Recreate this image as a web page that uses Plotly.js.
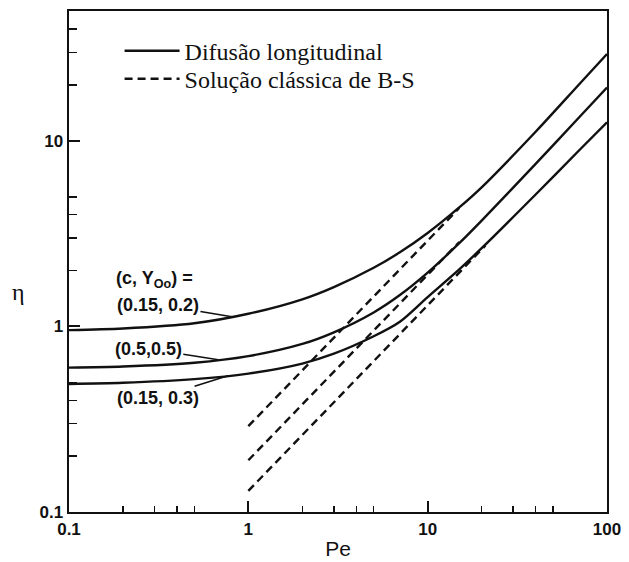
<!DOCTYPE html>
<html>
<head>
<meta charset="utf-8">
<script src="https://cdn.plot.ly/plotly-3.0.1.min.js"></script>
<style>html,body{margin:0;padding:0;background:#fff;}#chart{width:629px;height:562px;}</style>
</head>
<body>
<div id="chart"></div>
<script>
// Péclet numbers sampled along the solid curves
const pe = [0.1, 0.2, 0.5, 1, 2, 3, 5, 7, 10, 15, 20, 40, 70, 100];
// Longitudinal diffusion solutions (solid)
const etaA = [0.955, 0.975, 1.04, 1.17, 1.40, 1.63, 2.07, 2.51, 3.19, 4.38, 5.62, 11.2, 20.2, 29.4]; // (0.15, 0.2)
const etaB = [0.60, 0.608, 0.637, 0.692, 0.805, 0.93, 1.19, 1.476, 1.95, 2.81, 3.72, 7.52, 13.4, 19.4]; // (0.5, 0.5)
const etaC = [0.49, 0.497, 0.52, 0.557, 0.631, 0.713, 0.885, 1.06, 1.44, 2.03, 2.64, 5.14, 8.9, 12.6]; // (0.15, 0.3)
// Classical B-S solutions (dashed)
const peD1 = [1, 15],  etaD1 = [0.29, 4.35];
const peD2 = [1, 15],  etaD2 = [0.19, 2.85];
const peD3 = [1, 21],  etaD3 = [0.13, 2.73];
// Labels
const legendSolid = 'Difusão longitudinal';
const legendDashed = 'Solução clássica de B-S';
const curveLabels = ['(0.15, 0.2)', '(0.5,0.5)', '(0.15, 0.3)'];
const xTickVals = [0.1, 1, 10, 100], xTickText = ['0.1', '1', '10', '100'];
const yTickVals = [0.1, 1, 10], yTickText = ['0.1', '1', '10'];
const minorX = [0.2,0.3,0.4,0.5,2,3,4,5,20,30,40,50];
const minorY = [0.2,0.3,0.4,0.5,2,3,4,5,20,30,40];

const solid = {color: '#111', width: 2.4, shape: 'spline', smoothing: 0.8};
const dashed = {color: '#111', width: 2.4, dash: '8px,5px'};
const traces = [
  {x: pe, y: etaA, mode: 'lines', line: solid, name: legendSolid, legend: 'legend', showlegend: true},
  {x: pe, y: etaB, mode: 'lines', line: solid, name: legendSolid, legend: 'legend', showlegend: false},
  {x: pe, y: etaC, mode: 'lines', line: solid, name: legendSolid, legend: 'legend', showlegend: false},
  {x: peD1, y: etaD1, mode: 'lines', line: dashed, name: legendDashed, legend: 'legend2', showlegend: true},
  {x: peD2, y: etaD2, mode: 'lines', line: dashed, name: legendDashed, legend: 'legend2', showlegend: false},
  {x: peD3, y: etaD3, mode: 'lines', line: dashed, name: legendDashed, legend: 'legend2', showlegend: false}
];

const tickFont = {family: 'Liberation Sans, Arial, sans-serif', size: 17, color: '#111', weight: 'bold'};
const labFont = {family: 'Liberation Sans, Arial, sans-serif', size: 18, color: '#111', weight: 'bold'};
const legFont = {family: 'Liberation Serif, Times New Roman, serif', size: 24, color: '#111'};

function interpLog(xs, ys, x) {
  const lx = Math.log10(x);
  for (let i = 0; i < xs.length - 1; i++) {
    const a = Math.log10(xs[i]), b = Math.log10(xs[i+1]);
    if (lx >= a && lx <= b) {
      const t = (lx - a) / (b - a);
      return Math.pow(10, Math.log10(ys[i]) + t * (Math.log10(ys[i+1]) - Math.log10(ys[i])));
    }
  }
  return ys[0];
}
const ptA = 0.81, ptB = 0.68, ptC = 0.77;

const layout = {
  width: 629, height: 562,
  margin: {l: 69, r: 22, t: 11, b: 50},
  paper_bgcolor: '#fff', plot_bgcolor: '#fff',
  showlegend: true,
  legend: {x: 0.094, y: 0.920, xanchor: 'left', yanchor: 'middle', bgcolor: 'rgba(0,0,0,0)',
           font: legFont, itemwidth: 55},
  legend2: {x: 0.094, y: 0.864, xanchor: 'left', yanchor: 'middle', bgcolor: 'rgba(0,0,0,0)',
           font: legFont, itemwidth: 55},
  xaxis: {type: 'log', range: [-1, 2], showgrid: false, zeroline: false,
          showline: true, linecolor: '#111', linewidth: 2.4, mirror: true,
          ticks: 'inside', ticklen: 11, tickwidth: 2, tickcolor: '#111',
          tickmode: 'array', tickvals: xTickVals, ticktext: xTickText, tickfont: tickFont,
          minor: {tickmode: 'array', tickvals: minorX, ticks: 'inside', ticklen: 6, tickwidth: 1.5, tickcolor: '#111', showgrid: false},
          title: {text: 'Pe', font: {family: 'Liberation Sans, Arial, sans-serif', size: 21, color: '#111'}, standoff: 4}},
  yaxis: {type: 'log', range: [-1, 1.7], showgrid: false, zeroline: false,
          showline: true, linecolor: '#111', linewidth: 2.4, mirror: true,
          ticks: 'inside', ticklen: 11, tickwidth: 2, tickcolor: '#111',
          tickmode: 'array', tickvals: yTickVals, ticktext: yTickText, tickfont: tickFont,
          minor: {tickmode: 'array', tickvals: minorY, ticks: 'inside', ticklen: 8, tickwidth: 1.5, tickcolor: '#111', showgrid: false}},
  annotations: [
    {xref: 'paper', yref: 'paper', x: -0.11, y: 0.44, text: 'η', showarrow: false,
     font: {family: 'Liberation Serif, Times New Roman, serif', size: 24, color: '#111'}},
    {xref: 'x', yref: 'y', x: Math.log10(0.30), y: Math.log10(1.79), text: '(c, Y<sub>Oo</sub>) =', showarrow: false,
     xanchor: 'center', font: labFont},
    {xref: 'x', yref: 'y', x: Math.log10(ptA), y: Math.log10(interpLog(pe, etaA, ptA)), text: curveLabels[0],
     showarrow: true, arrowhead: 0, arrowwidth: 1.6, arrowcolor: '#111', ax: -74, ay: -12, font: labFont},
    {xref: 'x', yref: 'y', x: Math.log10(ptB), y: Math.log10(interpLog(pe, etaB, ptB)), text: curveLabels[1],
     showarrow: true, arrowhead: 0, arrowwidth: 1.6, arrowcolor: '#111', ax: -70, ay: -11, font: labFont},
    {xref: 'x', yref: 'y', x: Math.log10(ptC), y: Math.log10(interpLog(pe, etaC, ptC)), text: curveLabels[2],
     showarrow: true, arrowhead: 0, arrowwidth: 1.6, arrowcolor: '#111', ax: -70, ay: 22, font: labFont}
  ]
};

Plotly.newPlot('chart', traces, layout, {displayModeBar: false, staticPlot: true});
</script>
</body>
</html>
